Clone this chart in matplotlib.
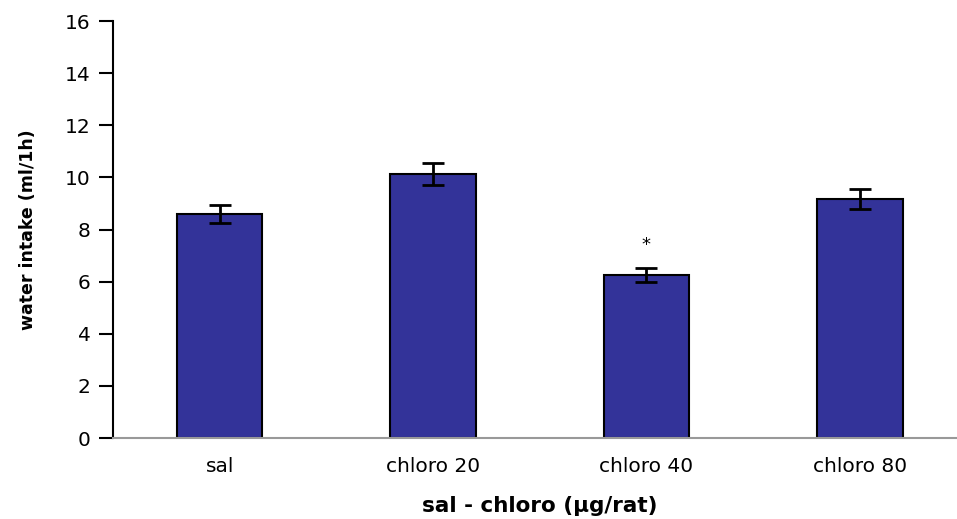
import matplotlib
matplotlib.use("Agg")
import matplotlib.pyplot as plt

categories = ["sal", "chloro 20", "chloro 40", "chloro 80"]
intake = [8.6, 10.13, 6.25, 9.16]
sem = [0.35, 0.42, 0.26, 0.39]
significant = [False, False, True, False]

plt.rcParams["font.family"] = ["DejaVu Sans"]

fig = plt.figure(figsize=(9.57, 5.19), dpi=100)
ax = fig.add_axes([0.118, 0.156, 0.892, 0.8035])

x = range(len(categories))
ax.bar(x, intake, width=0.40, color="#333399", edgecolor="black", linewidth=1.5,
       yerr=sem, error_kw=dict(ecolor="black", elinewidth=2, capsize=8, capthick=2),
       zorder=2)

for xi, v, e, sig in zip(x, intake, sem, significant):
    if sig:
        ax.text(xi, v + e + 0.55, "*", ha="center", va="bottom", fontsize=13)

ax.set_xlim(-0.5, 3.5)
ax.set_ylim(0, 16)
ax.set_yticks(range(0, 17, 2))
ax.set_xticks(list(x))
ax.set_xticklabels(categories, fontsize=14.5)
ax.tick_params(axis="y", labelsize=14.5, length=10, width=1.5, direction="out", pad=6)
ax.tick_params(axis="x", length=0, pad=14)

for side in ("top", "right"):
    ax.spines[side].set_visible(False)
ax.spines["left"].set_linewidth(1.5)
ax.spines["bottom"].set_color("#999999")
ax.spines["bottom"].set_linewidth(1.5)

ax.set_ylabel("water intake (ml/1h)", fontsize=12.5, fontweight="bold", labelpad=20)
ax.set_xlabel("sal - chloro (µg/rat)", fontsize=15.5, fontweight="bold", labelpad=14)

fig.savefig("out.png", dpi=100)
